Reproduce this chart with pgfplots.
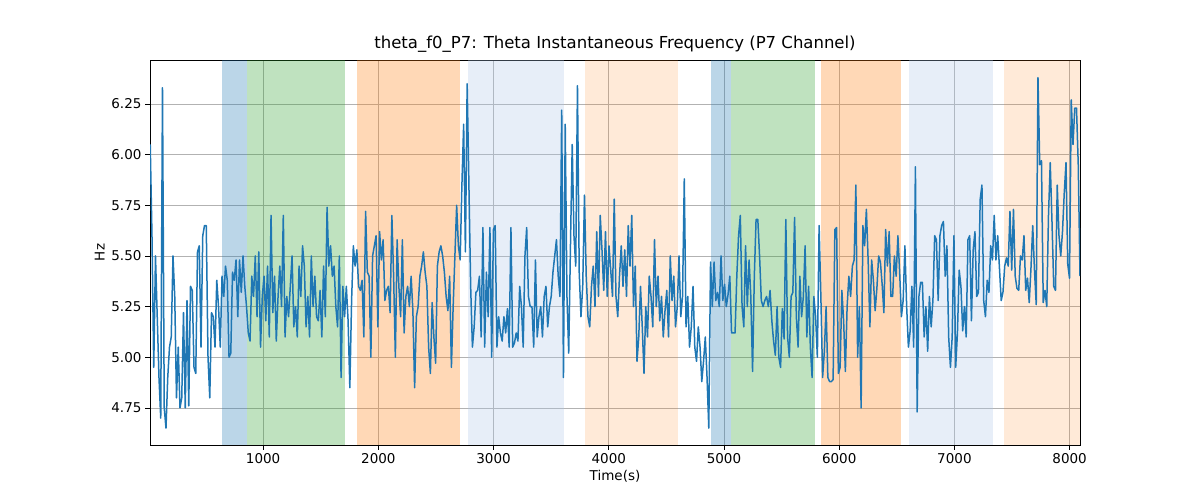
\documentclass[border=0pt]{standalone}
\usepackage{pgfplots}
\pgfplotsset{compat=1.18}
\usepackage{pgfplotstable}
\usepackage{fontspec}
\setmainfont{DejaVu Sans}
\definecolor{c0}{HTML}{1F77B4}
\definecolor{c1}{HTML}{FF7F0E}
\definecolor{c2}{HTML}{2CA02C}
\definecolor{lb}{HTML}{AEC7E8}
\pgfplotstableread{
y
6.05
5.60
4.95
5.50
5.20
4.90
4.70
6.33
4.75
4.65
4.90
5.05
5.10
5.50
5.30
4.80
5.05
4.75
4.80
5.22
4.75
5.28
4.76
5.35
5.33
4.95
4.92
5.52
5.55
5.05
5.60
5.65
5.65
5.00
4.80
5.22
5.20
5.05
5.38
5.25
5.05
5.40
5.30
5.45
5.38
5.00
5.02
5.42
5.38
5.48
5.20
5.48
5.32
5.50
5.35
5.25
5.12
5.08
5.40
5.30
5.50
5.20
5.52
5.05
5.30
5.40
5.18
5.45
5.10
5.70
5.22
5.40
5.08
5.30
5.45
5.25
5.70
5.10
5.30
5.20
5.35
5.50
5.15
5.25
5.10
5.45
5.30
5.55
5.45
5.15
5.30
5.10
5.50
5.25
5.40
5.20
5.18
5.33
5.10
5.45
5.20
5.74
5.45
5.55
5.40
5.45
5.25
5.15
5.50
4.90
5.35
5.20
5.35
5.18
4.85
5.28
5.55
5.45
5.53
5.35
5.33
5.38
5.10
5.72
5.42
5.40
5.00
5.50
5.55
5.60
5.15
5.62
5.48
5.58
5.28
5.33
5.35
5.22
5.70
5.40
5.00
5.58
5.35
5.20
5.58
5.12
5.30
5.35
5.25
5.40
5.23
4.85
5.20
5.25
5.40
5.45
5.52
5.42
5.35
5.05
4.92
5.27
5.10
4.97
5.45
5.52
5.55
5.50
5.42
5.30
5.23
5.40
4.95
5.25
5.50
5.75
5.55
5.48
5.85
6.15
5.52
6.35
5.85
5.35
5.05
5.15
5.32
5.33
5.40
5.10
5.64
5.05
5.42
5.20
5.64
5.00
5.63
5.65
5.05
5.20
5.12
5.08
5.20
5.12
5.24
5.05
5.64
5.05
5.07
5.12
5.08
5.35
5.25
5.05
5.50
5.64
5.30
5.25
5.25
5.05
5.48
5.10
5.20
5.25
5.10
5.30
5.35
5.15
5.25
5.30
5.42
5.50
5.58
5.40
5.30
6.22
4.90
6.15
5.30
5.02
5.55
6.05
5.60
5.45
6.34
5.42
5.20
5.35
5.80
5.40
5.20
5.15
5.35
5.45
5.25
5.62
5.30
5.70
5.53
5.33
5.62
5.30
5.55
5.43
5.30
5.78
5.30
5.20
5.40
5.55
5.35
5.53
5.30
5.65
5.45
5.70
5.25
5.45
4.98
5.10
5.35
5.15
4.92
5.25
5.10
5.40
5.30
5.15
5.58
5.25
5.40
5.18
5.30
5.10
5.23
5.33
5.10
5.50
5.28
5.40
5.15
5.25
5.50
5.20
5.30
5.88
5.15
5.30
5.05
5.15
5.35
5.05
4.98
5.15
5.05
4.88
4.98
5.10
4.90
4.65
5.47
5.25
5.47
5.28
5.32
5.25
5.50
5.28
5.36
5.25
5.31
5.40
5.12
5.12
5.12
5.40
5.60
5.70
5.25
5.15
5.55
5.25
5.48
5.30
4.93
5.40
5.68
5.68
5.50
5.28
5.25
5.28
5.30
5.25
5.33
5.18
5.08
5.01
5.25
5.00
4.95
5.24
5.09
5.68
5.10
5.00
5.30
5.32
5.69
5.20
5.05
5.40
5.20
5.30
5.55
5.10
5.35
5.05
4.90
5.30
5.20
5.00
5.65
5.30
4.90
5.03
5.25
4.90
4.88
4.88
4.89
5.63
5.64
4.92
4.95
5.33
5.18
4.93
5.25
5.40
5.30
5.45
5.48
5.85
5.00
5.25
4.75
5.65
5.55
5.73
5.48
5.15
5.48
5.38
5.23
5.34
5.50
5.47
5.36
5.22
5.63
5.45
5.62
5.30
5.30
5.50
5.40
5.60
5.42
5.20
5.28
5.55
5.25
5.05
5.13
5.35
5.05
5.94
4.73
5.30
5.37
5.37
5.10
5.25
5.03
5.30
5.15
5.28
5.60
5.58
5.28
5.60
5.65
5.67
5.40
5.55
5.10
4.95
5.10
5.60
4.95
5.12
5.43
5.35
5.13
5.25
5.10
5.58
5.60
5.18
5.53
5.62
5.30
5.32
5.78
5.85
5.28
5.20
5.38
5.32
5.55
5.48
5.70
5.48
5.60
5.44
5.28
5.32
5.45
5.49
5.45
5.72
5.43
5.73
5.40
5.34
5.33
5.50
5.48
5.60
5.33
5.39
5.27
5.44
5.65
5.43
5.26
6.38
5.95
5.97
5.27
5.33
5.25
5.70
5.96
5.67
5.35
5.33
5.85
5.60
5.50
5.62
5.81
5.96
5.46
5.39
6.27
6.05
6.23
6.23
5.95
5.40
}\data
\pgfplotstablegetrowsof{\data}
\pgfmathsetmacro{\stride}{8070/(\pgfplotsretval-1)}
\begin{document}
\begin{tikzpicture}
\useasboundingbox (0,0) rectangle (1200pt,500pt);
\begin{axis}[
  at={(150pt,55pt)}, anchor=south west,
  scale only axis, width=930pt, height=385pt,
  xmin=18, xmax=8090, ymin=4.567, ymax=6.467,
  ytick={4.75,5.00,5.25,5.50,5.75,6.00,6.25},
  yticklabel style={/pgf/number format/fixed,/pgf/number format/fixed zerofill,/pgf/number format/precision=2},
  xtick={1000,2000,...,8000},
  scaled ticks=false,
  /pgf/number format/assume math mode=true,
  /pgf/number format/1000 sep={},
  grid=major, grid style={color=gray!60, line width=0.8pt},
  axis line style={line width=0.8pt},
  tick style={black, line width=0.8pt}, major tick length=5pt,
  tick align=outside, xtick pos=bottom, ytick pos=left,
  title={theta\_f0\_P7: Theta Instantaneous Frequency (P7 Channel)},
  xlabel={Time(s)}, ylabel={Hz},
  ticklabel style={font=\fontsize{13.5}{16}\selectfont},
  label style={font=\fontsize{13.5}{16}\selectfont},
  title style={font=\fontsize{16.5}{19}\selectfont, yshift=-2pt},
]
\fill[c0, opacity=0.3] (axis cs:644,4.567) rectangle (axis cs:861,6.467);
\fill[c2, opacity=0.3] (axis cs:861,4.567) rectangle (axis cs:1712,6.467);
\fill[c1, opacity=0.3] (axis cs:1816,4.567) rectangle (axis cs:2711,6.467);
\fill[lb, opacity=0.3] (axis cs:2781,4.567) rectangle (axis cs:3615,6.467);
\fill[c1, opacity=0.16] (axis cs:3797,4.567) rectangle (axis cs:4605,6.467);
\fill[c0, opacity=0.3] (axis cs:4883,4.567) rectangle (axis cs:5065,6.467);
\fill[c2, opacity=0.3] (axis cs:5065,4.567) rectangle (axis cs:5786,6.467);
\fill[c1, opacity=0.3] (axis cs:5838,4.567) rectangle (axis cs:6532,6.467);
\fill[lb, opacity=0.3] (axis cs:6602,4.567) rectangle (axis cs:7332,6.467);
\fill[c1, opacity=0.16] (axis cs:7428,4.567) rectangle (axis cs:8090,6.467);
\addplot[c0, line width=1.5pt, line join=round] table[x expr=\coordindex*\stride+20, y=y] {\data};
\end{axis}
\end{tikzpicture}
\end{document}
